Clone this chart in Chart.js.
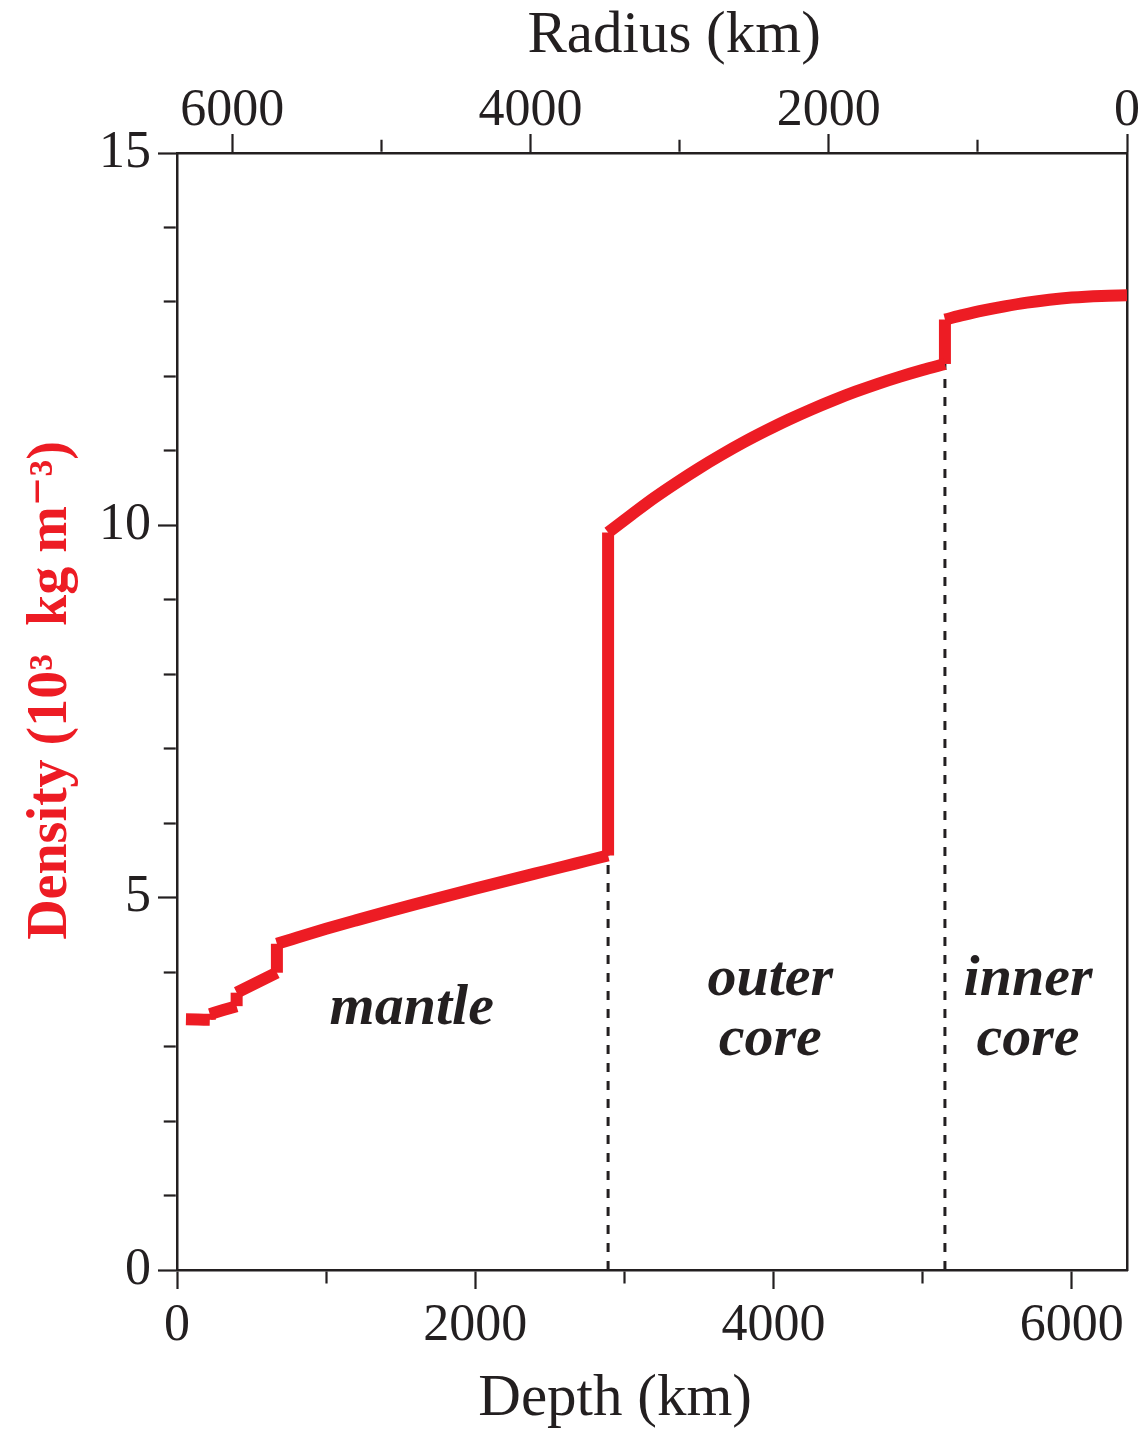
<!DOCTYPE html>
<html>
<head>
<meta charset="utf-8">
<script src="https://cdn.jsdelivr.net/npm/chart.js@4/dist/chart.umd.min.js"></script>
<style>
  html, body { margin: 0; padding: 0; background: #ffffff; }
  #wrap { width: 1146px; height: 1432px; }
</style>
</head>
<body>
<div id="wrap"><canvas id="c" width="1146" height="1432"></canvas></div>
<script>
// ---- data (PREM-like density profile) ----
const depthKm = [60, 140, 220, 220, 310, 400, 400, 535, 670, 670, 771, 1000, 1200, 1400, 1600, 1800, 2000, 2200, 2400, 2600, 2741, 2891,
                 2891, 3050, 3200, 3350, 3500, 3650, 3800, 3950, 4100, 4250, 4400, 4550, 4700, 4850, 5000, 5150,
                 5150, 5275, 5400, 5550, 5700, 5850, 6000, 6200, 6371];
const density = [3.366, 3.363, 3.360, 3.436, 3.490, 3.543, 3.724, 3.858, 3.992, 4.381, 4.443, 4.581, 4.695, 4.806, 4.913, 5.018, 5.121, 5.222, 5.322, 5.422, 5.492, 5.567,
                 9.904, 10.146, 10.369, 10.573, 10.766, 10.946, 11.115, 11.271, 11.418, 11.553, 11.678, 11.794, 11.900, 11.997, 12.086, 12.167,
                 12.764, 12.826, 12.883, 12.941, 12.991, 13.030, 13.059, 13.081, 13.089];
const boundaryDepths = [2891, 5150];
const boundaryTops = [5.567, 12.167];
const depthTicks = [0, 1000, 2000, 3000, 4000, 5000, 6000];
const radiusTicks = [0, 1000, 2000, 3000, 4000, 5000, 6000];
const densityTicks = [0,1,2,3,4,5,6,7,8,9,10,11,12,13,14,15];
const regionNames = [['mantle'], ['outer', 'core'], ['inner', 'core']];
const EARTH_RADIUS = 6371;

// ---- styling / placement ----
const RED = '#ED1C24';
const INK = '#231F20';
const SERIF = "'Liberation Serif', 'DejaVu Serif', serif";
const regionAnchors = [ {x: 1574, y: 3.50}, {x: 3979, y: 3.49}, {x: 5707, y: 3.49} ];
const LINE_W = 12;

// Split the profile into smooth pieces and vertical jumps (where depth repeats)
const pieces = [];
let cur = [];
depthKm.forEach((d, i) => {
  if (i > 0 && d === depthKm[i - 1]) {
    pieces.push({smooth: true, pts: cur});
    pieces.push({smooth: false, pts: [{x: d, y: density[i - 1]}, {x: d, y: density[i]}]});
    cur = [];
  }
  cur.push({x: d, y: density[i]});
});
pieces.push({smooth: true, pts: cur});

const profileDatasets = pieces.map(p => ({
  data: p.pts, borderColor: RED, borderWidth: LINE_W, pointRadius: 0, fill: false,
  borderCapStyle: 'butt', borderJoinStyle: 'round',
  cubicInterpolationMode: p.smooth ? 'monotone' : 'default', tension: 0, order: 1
}));

const boundaryDatasets = boundaryDepths.map((d, i) => ({
  data: [{x: d, y: 0}, {x: d, y: boundaryTops[i]}],
  borderColor: INK, borderWidth: 3, borderDash: [9, 9],
  pointRadius: 0, fill: false, order: 2
}));

const regionLabels = {
  id: 'regionLabels',
  afterDatasetsDraw(chart) {
    const {ctx, scales: {x, y}} = chart;
    ctx.save();
    ctx.fillStyle = INK;
    ctx.font = "italic bold 58px " + SERIF;
    ctx.textAlign = 'center';
    ctx.textBaseline = 'middle';
    regionNames.forEach((lines, i) => {
      const a = regionAnchors[i];
      const px = x.getPixelForValue(a.x);
      const py = y.getPixelForValue(a.y);
      const lh = 60;
      const startY = py - (lines.length - 1) * lh / 2;
      lines.forEach((t, j) => ctx.fillText(t, px, startY + j * lh));
    });
    ctx.restore();
  }
};

const tickFont = {family: SERIF, size: 52, lineHeight: 1.2};
const MAJOR_TL = 19, MINOR_TL = 12, GAP = 200;
// minor ticks: show only the MINOR_TL pixels nearest the axis
// bottom axis: tick drawn from the axis outward
const dashFromAxis = isMajor => isMajor ? [] : [MINOR_TL, GAP];
// top / left axes: tick drawn from the outer end toward the axis
const dashToAxis = isMajor => isMajor ? [] : [MINOR_TL, GAP];
const offsetToAxis = isMajor => isMajor ? 0 : (MINOR_TL + GAP) - ((MAJOR_TL - 1.25) - MINOR_TL);

new Chart(document.getElementById('c'), {
  type: 'line',
  data: { datasets: [...profileDatasets, ...boundaryDatasets] },
  options: {
    responsive: false,
    animation: false,
    devicePixelRatio: 1,
    layout: { padding: 0 },
    plugins: { legend: { display: false }, tooltip: { enabled: false } },
    scales: {
      x: {
        type: 'linear', position: 'bottom', min: 0, max: EARTH_RADIUS,
        afterBuildTicks: s => { s.ticks = depthTicks.map(v => ({value: v})); },
        afterFit: s => { s.height = 162; },
        ticks: { font: tickFont, color: INK, padding: 6, maxRotation: 0, autoSkip: false,
                 callback: v => (v % 2000 === 0 ? String(v) : '') },
        grid: { drawOnChartArea: false, drawTicks: true, tickLength: MAJOR_TL, tickWidth: 2.2, tickColor: INK,
                tickBorderDash: c => dashFromAxis(c.tick && c.tick.value % 2000 === 0) },
        border: { display: true, color: INK, width: 2.5 },
        title: { display: true, text: 'Depth (km)     ', color: INK,
                 font: {family: SERIF, size: 59, lineHeight: 1.1}, padding: {top: 0, bottom: 0} }
      },
      x2: {
        type: 'linear', position: 'top', min: 0, max: EARTH_RADIUS, reverse: true,
        afterBuildTicks: s => { s.ticks = radiusTicks.map(v => ({value: v})); },
        afterFit: s => { s.height = 153; },
        ticks: { font: tickFont, color: INK, padding: -9, maxRotation: 0, autoSkip: false,
                 callback: v => (v % 2000 === 0 ? String(v) : '') },
        grid: { drawOnChartArea: false, drawTicks: true, tickLength: MAJOR_TL, tickWidth: 2.2, tickColor: INK,
                tickBorderDash: c => dashToAxis(c.tick && c.tick.value % 2000 === 0),
                tickBorderDashOffset: c => offsetToAxis(c.tick && c.tick.value % 2000 === 0) },
        border: { display: true, color: INK, width: 2.5 },
        title: { display: true, text: '   Radius (km)', color: INK,
                 font: {family: SERIF, size: 59, lineHeight: 1.1}, padding: {top: 4, bottom: 0} }
      },
      y: {
        type: 'linear', position: 'left', min: 0, max: 15,
        afterBuildTicks: s => { s.ticks = densityTicks.map(v => ({value: v})); },
        afterFit: s => { s.width = 177; },
        ticks: { font: tickFont, color: INK, padding: 7, autoSkip: false,
                 callback: v => (v % 5 === 0 ? String(v) : '') },
        grid: { drawOnChartArea: false, drawTicks: true, tickLength: MAJOR_TL, tickWidth: 2.2, tickColor: INK,
                tickBorderDash: c => dashToAxis(c.tick && c.tick.value % 5 === 0),
                tickBorderDashOffset: c => offsetToAxis(c.tick && c.tick.value % 5 === 0) },
        border: { display: true, color: INK, width: 2.5 },
        title: { display: true, text: '   Density (10³  kg m⁻³)', color: RED,
                 font: {family: SERIF, size: 56, weight: 'bold', lineHeight: 1.2}, padding: {top: 18, bottom: 0} }
      },
      y2: {
        type: 'linear', position: 'right', min: 0, max: 15,
        afterFit: s => { s.width = 19; },
        ticks: { display: false },
        grid: { display: false },
        border: { display: true, color: INK, width: 2.5 }
      }
    }
  },
  plugins: [regionLabels]
});
</script>
</body>
</html>
